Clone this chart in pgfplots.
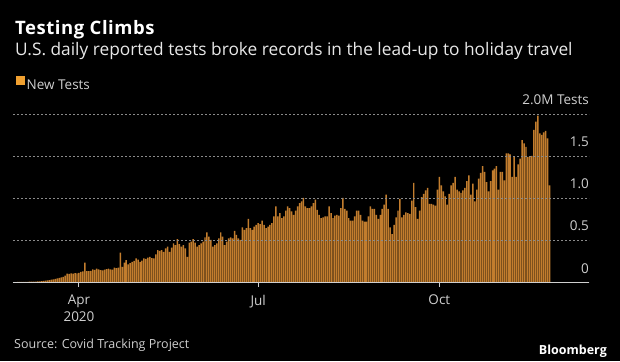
\documentclass[border=0pt]{standalone}
\usepackage{pgfplots}
\pgfplotsset{compat=1.18}
\usepackage{fontspec}
\setmainfont{Open Sans}
\definecolor{barorange}{HTML}{C27D2E}
\definecolor{legorange}{HTML}{F0A030}
\definecolor{gridgray}{HTML}{8A8A8A}
\definecolor{labgray}{HTML}{CFCFCF}
\definecolor{subgray}{HTML}{E8E8E8}
\begin{document}
\begin{tikzpicture}[x=1pt,y=1pt]
\fill[black] (0,0) rectangle (620,361);
\node[anchor=base west, inner sep=0, text=white, font=\bfseries\fontsize{18.5}{21}\selectfont\addfontfeature{LetterSpace=3}] at (15,326) {Testing Climbs};
\node[anchor=base west, inner sep=0, text=subgray, font=\fontsize{17.3}{19}\selectfont] at (15,305) {U.S. daily reported tests broke records in the lead-up to holiday travel};
\node[anchor=base west, inner sep=0, text=labgray, font=\fontsize{12.5}{15}\selectfont] at (14,13) {Source: Covid Tracking Project};
\node[anchor=base east, inner sep=0, text=white, font=\bfseries\fontsize{12.5}{15}\selectfont] at (607,7) {Bloomberg};
\begin{axis}[
  at={(13pt,79pt)}, anchor=south west,
  scale only axis, width=576pt, height=168pt,
  xmin=-33.5, xmax=259, ymin=0, ymax=2.0,
  axis on top,
  axis x line*=bottom, axis y line*=right,
  x axis line style={-, draw=labgray, line width=1pt},
  y axis line style={draw=none},
  xtick={0,91,183},
  xticklabels={{Apr\\2020},Jul,Oct},
  xticklabel style={align=center, anchor=north, inner sep=0pt, yshift=-8pt, text=labgray, font=\fontsize{13.5}{17}\selectfont},
  tick align=outside,
  x tick style={draw=labgray, line width=1pt},
  major tick length=5pt,
  ytick={0,0.5,1,1.5,2},
  yticklabels={0,0.5,1.0,1.5,2.0M Tests},
  y tick style={draw=none},
  yticklabel style={anchor=base east, inner sep=0pt, xshift=-5pt, yshift=9pt, text=labgray, font=\fontsize{13.5}{16}\selectfont},
  ymajorgrids,
  y grid style={draw=gridgray, line width=0.9pt, dash pattern=on 1.6pt off 2.4pt},
  legend style={at={(axis description cs:0.0043,1.226)}, anchor=north west, draw=none, fill=none, inner sep=0pt, text=labgray, font=\fontsize{13.5}{16}\selectfont, legend cell align=left},
  legend image code/.code={\fill[legorange] (0.5pt,0.5pt) rectangle (9.5pt,9.5pt);},
  clip=false,
]
\addplot[ybar, bar width=0.75, fill=barorange, draw=none] coordinates {
(-31,0.001)(-30,0.001)(-29,0.001)(-28,0.002)(-27,0.002)(-26,0.002)(-25,0.003)(-24,0.003)(-23,0.004)(-22,0.005)
(-21,0.006)(-20,0.008)(-19,0.010)(-18,0.012)(-17,0.015)(-16,0.018)(-15,0.022)(-14,0.028)(-13,0.032)(-12,0.036)
(-11,0.042)(-10,0.048)(-9,0.055)(-8,0.062)(-7,0.075)(-6,0.100)(-5,0.098)(-4,0.104)(-3,0.100)(-2,0.106)(-1,0.104)
(0,0.110)(1,0.122)(2,0.126)(3,0.230)(4,0.130)(5,0.128)(6,0.132)(7,0.150)(8,0.145)(9,0.160)
(10,0.150)(11,0.140)(12,0.138)(13,0.146)(14,0.152)(15,0.160)(16,0.150)(17,0.148)(18,0.170)(19,0.165)
(20,0.172)(21,0.350)(22,0.180)(23,0.230)(24,0.260)(25,0.210)(26,0.225)(27,0.240)(28,0.250)(29,0.280)
(30,0.265)(31,0.240)(32,0.255)(33,0.280)(34,0.275)(35,0.290)(36,0.300)(37,0.285)(38,0.280)(39,0.330)
(40,0.380)(41,0.370)(42,0.380)(43,0.360)(44,0.400)(45,0.420)(46,0.360)(47,0.410)(48,0.460)(49,0.440)
(50,0.510)(51,0.450)(52,0.420)(53,0.440)(54,0.400)(55,0.300)(56,0.470)(57,0.480)(58,0.510)(59,0.470)
(60,0.420)(61,0.440)(62,0.460)(63,0.480)(64,0.530)(65,0.590)(66,0.540)(67,0.500)(68,0.420)(69,0.440)
(70,0.460)(71,0.520)(72,0.590)(73,0.540)(74,0.440)(75,0.480)(76,0.520)(77,0.530)(78,0.520)(79,0.610)
(80,0.560)(81,0.520)(82,0.500)(83,0.650)(84,0.620)(85,0.640)(86,0.750)(87,0.640)(88,0.620)(89,0.660)
(90,0.680)(91,0.700)(92,0.690)(93,0.730)(94,0.680)(95,0.640)(96,0.660)(97,0.680)(98,0.700)(99,0.780)
(100,0.900)(101,0.780)(102,0.820)(103,0.760)(104,0.780)(105,0.850)(106,0.900)(107,0.880)(108,0.840)(109,0.800)
(110,0.850)(111,0.900)(112,0.940)(113,0.960)(114,1.000)(115,0.900)(116,0.880)(117,0.880)(118,0.900)(119,0.940)
(120,0.980)(121,0.860)(122,0.800)(123,0.760)(124,0.770)(125,0.780)(126,0.780)(127,0.900)(128,0.820)(129,0.760)
(130,0.790)(131,0.800)(132,0.790)(133,0.880)(134,1.000)(135,0.870)(136,0.850)(137,0.760)(138,0.730)(139,0.730)
(140,0.780)(141,0.850)(142,0.850)(143,0.800)(144,0.730)(145,0.720)(146,0.720)(147,0.780)(148,0.900)(149,0.870)
(150,0.870)(151,0.800)(152,0.750)(153,0.800)(154,0.870)(155,0.920)(156,1.040)(157,0.870)(158,0.650)(159,0.570)
(160,0.680)(161,0.770)(162,0.850)(163,0.990)(164,0.770)(165,0.800)(166,0.830)(167,0.820)(168,0.810)(169,0.970)
(170,1.180)(171,0.890)(172,0.750)(173,0.850)(174,1.010)(175,1.050)(176,1.090)(177,1.120)(178,0.930)(179,0.930)
(180,0.920)(181,0.910)(182,1.100)(183,1.250)(184,1.150)(185,1.080)(186,1.020)(187,0.920)(188,1.050)(189,1.150)
(190,1.180)(191,1.250)(192,1.100)(193,1.080)(194,1.060)(195,1.090)(196,1.120)(197,1.200)(198,1.270)(199,1.040)
(200,1.170)(201,0.960)(202,1.100)(203,1.230)(204,1.300)(205,1.380)(206,1.310)(207,1.190)(208,1.080)(209,1.200)
(210,1.330)(211,1.350)(212,1.380)(213,1.100)(214,1.310)(215,1.310)(216,1.210)(217,1.530)(218,1.530)(219,1.520)
(220,1.250)(221,1.490)(222,1.250)(223,1.400)(224,1.470)(225,1.690)(226,1.650)(227,1.610)(228,1.490)(229,1.490)
(230,1.500)(231,1.810)(232,1.910)(233,1.980)(234,1.770)(235,1.750)(236,1.780)(237,1.800)(238,1.710)(239,1.150)
};
\addlegendentry{New Tests}
\end{axis}
\end{tikzpicture}
\end{document}
